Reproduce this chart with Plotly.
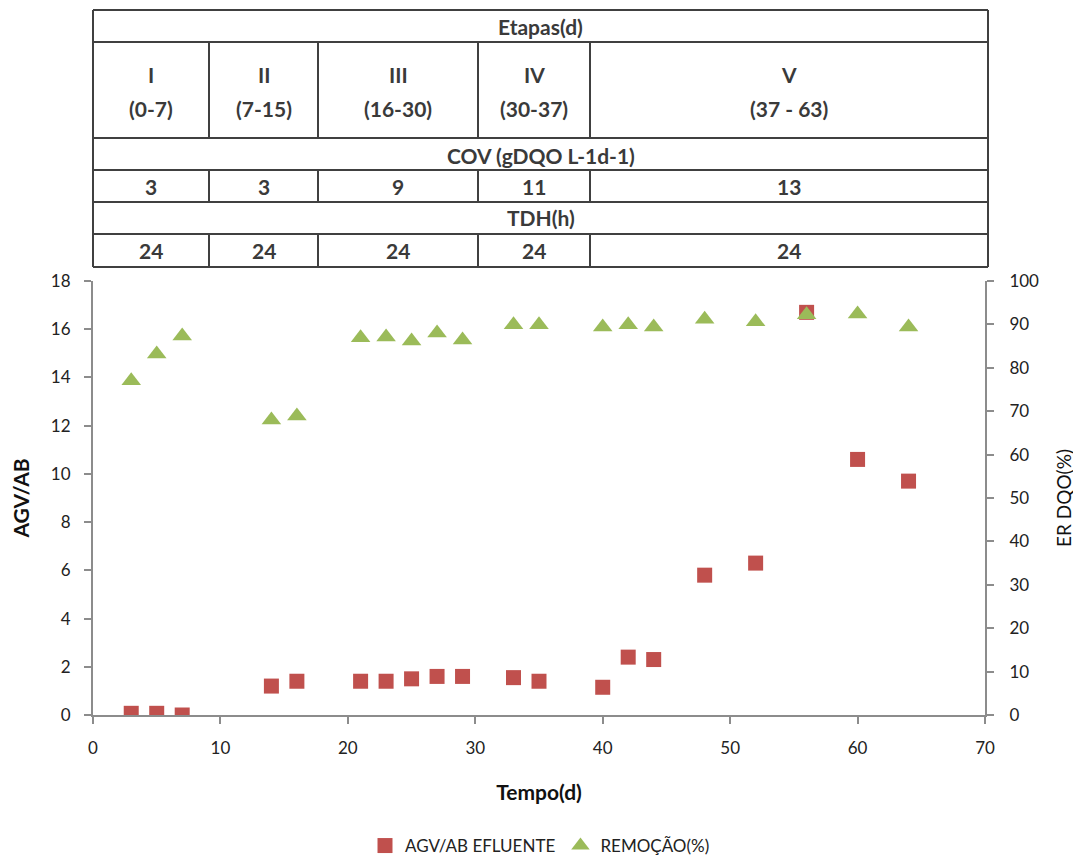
import plotly.graph_objects as go

# ---- data ----
dias = [3, 5, 7, 14, 16, 21, 23, 25, 27, 29, 33, 35, 40, 42, 44, 48, 52, 56, 60, 64]
agv_ab = [0.07, 0.07, 0.0, 1.2, 1.4, 1.4, 1.4, 1.5, 1.6, 1.6, 1.55, 1.4, 1.15, 2.4, 2.3, 5.8, 6.3, 16.7, 10.6, 9.7]
remocao = [77, 83.2, 87.3, 68, 68.9, 86.9, 87.1, 86.2, 88, 86.4, 89.9, 89.9, 89.4, 89.9, 89.4, 91.2, 90.6, 92.2, 92.4, 89.4]

etapas = ["I", "II", "III", "IV", "V"]
intervalos = ["(0-7)", "(7-15)", "(16-30)", "(30-37)", "(37 - 63)"]
cov = ["3", "3", "9", "11", "13"]
tdh = ["24", "24", "24", "24", "24"]

RED = "#C0504D"
GREEN = "#9BBB59"
FONT = "Lato, Open Sans, sans-serif"

OFF = 8  # page body margin
W, H = 1081 - OFF, 861 - OFF
# plot area in screen pixels
SL, SR, ST, SB = 93, 985, 281, 715
PL, PR, PT, PB = SL - OFF, SR - OFF, ST - OFF, SB - OFF

def px(x):
    return (x - SL) / (SR - SL)

def py(y):
    return (SB - y) / (SB - ST)

fig = go.Figure()
fig.add_trace(go.Scatter(x=dias, y=agv_ab, mode="markers", name="AGV/AB EFLUENTE",
                         marker=dict(symbol="square", size=15, color=RED), yaxis="y"))
fig.add_trace(go.Scatter(x=dias, y=remocao, mode="markers", name="REMOÇÃO(%)",
                         marker=dict(symbol="triangle-up", size=17, color=GREEN), yaxis="y2"))

axcol = "#8c8c8c"
tick = dict(size=17, color="#222")
fig.update_layout(
    width=W, height=H,
    margin=dict(l=PL, r=W - PR, t=PT, b=H - PB, pad=0, autoexpand=False),
    plot_bgcolor="white", paper_bgcolor="white",
    font=dict(family=FONT, size=17, color="#222"),
    showlegend=True,
    legend=dict(orientation="h", x=px(540), xanchor="center", y=py(846), yanchor="middle",
                font=dict(size=17, color="#222"), itemwidth=30, traceorder="normal"),
    xaxis=dict(range=[0, 70], dtick=10, showgrid=False, zeroline=False, showline=True,
               linecolor=axcol, linewidth=2, ticks="outside", ticklen=7, tickcolor=axcol, tickwidth=2,
               tickfont=tick, ticklabelstandoff=10,
               title=dict(text="<b>Tempo(d)</b>", font=dict(size=21, color="#111"), standoff=28)),
    yaxis=dict(range=[0, 18], dtick=2, showgrid=False, zeroline=False, showline=True,
               linecolor=axcol, linewidth=2, ticks="outside", ticklen=7, tickcolor=axcol, tickwidth=2,
               tickfont=tick, ticklabelstandoff=10,
               title=dict(text="<b>AGV/AB</b>", font=dict(size=21, color="#111"), standoff=22)),
    yaxis2=dict(range=[0, 100], dtick=10, overlaying="y", side="right", showgrid=False, zeroline=False,
                showline=True, linecolor=axcol, linewidth=2, ticks="outside", ticklen=7, tickcolor=axcol,
                tickwidth=2, tickfont=tick, ticklabelstandoff=12,
                title=dict(text="ER DQO(%)", font=dict(size=19, color="#111"), standoff=20)),
)

# ---- table above the chart ----
cols = [93, 209, 318, 478, 590, 988]
rows = [10, 42, 138, 170, 202, 234, 267]
lc = "#404040"
shapes = []
for r in rows:
    shapes.append(dict(type="line", xref="paper", yref="paper", x0=px(cols[0]), x1=px(cols[-1]),
                       y0=py(r), y1=py(r), line=dict(color=lc, width=2)))
shapes.append(dict(type="line", xref="paper", yref="paper", x0=px(cols[0]), x1=px(cols[0]),
                   y0=py(rows[0]), y1=py(rows[-1]), line=dict(color=lc, width=2)))
shapes.append(dict(type="line", xref="paper", yref="paper", x0=px(cols[-1]), x1=px(cols[-1]),
                   y0=py(rows[0]), y1=py(rows[-1]), line=dict(color=lc, width=2)))
for c in cols[1:-1]:
    for (a, b) in [(rows[1], rows[2]), (rows[3], rows[4]), (rows[5], rows[6])]:
        shapes.append(dict(type="line", xref="paper", yref="paper", x0=px(c), x1=px(c),
                           y0=py(a), y1=py(b), line=dict(color=lc, width=2)))
fig.update_layout(shapes=shapes)

tf = dict(family=FONT, size=21, color="#3a3a3a")
ann = []
def txt(x, y, t):
    ann.append(dict(x=px(x), y=py(y), xref="paper", yref="paper", text=t, showarrow=False,
                    font=tf, xanchor="center", yanchor="middle"))

xm = (cols[0] + cols[-1]) / 2
txt(xm, 26, "<b>Etapas(d)</b>")
txt(xm, 155, "<b>COV (gDQO L-1d-1)</b>")
txt(xm, 218, "<b>TDH(h)</b>")
for i in range(5):
    cx = (cols[i] + cols[i + 1]) / 2
    txt(cx, 75, "<b>" + etapas[i] + "</b>")
    txt(cx, 108, "<b>" + intervalos[i] + "</b>")
    txt(cx, 186, "<b>" + cov[i] + "</b>")
    txt(cx, 250, "<b>" + tdh[i] + "</b>")
fig.update_layout(annotations=ann)

fig.write_html("out.html")
